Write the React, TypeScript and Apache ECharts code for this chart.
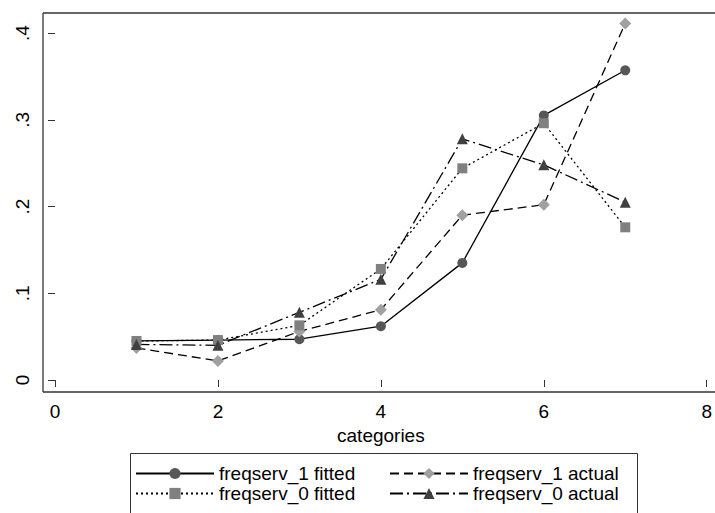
import React, { useEffect, useRef } from "react";
import * as echarts from "echarts";

const categories = [1, 2, 3, 4, 5, 6, 7];
const f1Fitted = [0.045, 0.046, 0.047, 0.062, 0.135, 0.305, 0.357];
const f1Actual = [0.037, 0.022, 0.056, 0.081, 0.19, 0.202, 0.411];
const f0Fitted = [0.045, 0.046, 0.063, 0.128, 0.244, 0.296, 0.176];
const f0Actual = [0.041, 0.04, 0.078, 0.116, 0.278, 0.248, 0.205];
const xTicks = [0, 2, 4, 6, 8];
const yTickLabels: Record<string, string> = { "0": "0", "0.1": ".1", "0.2": ".2", "0.3": ".3", "0.4": ".4" };

const FONT = "'Liberation Sans', Arial, sans-serif";

export default function App() {
  const ref = useRef<HTMLDivElement>(null);
  useEffect(() => {
    document.body.style.margin = "0";
    const chart = echarts.init(ref.current!, null, { renderer: "svg" });
    const pair = (vals: number[]) => categories.map((c, i) => [c, vals[i]]);
    const mk = (name: string, vals: number[], symbol: string, size: number, color: string, dash: any) => ({
      name,
      type: "line",
      data: pair(vals),
      symbol,
      symbolSize: size,
      showSymbol: true,
      clip: false,
      itemStyle: { color, borderWidth: 0 },
      lineStyle: { color: "#000", width: 1.3, type: dash },
      emphasis: { disabled: true },
    });
    const legendCommon = {
      orient: "vertical",
      itemWidth: 78,
      itemHeight: 14,
      itemGap: 1,
      padding: 0,
      textStyle: { fontFamily: FONT, fontSize: 19, color: "#000", lineHeight: 18 },
      selectedMode: false,
      top: 464,
    };
    chart.setOption({
      animation: false,
      textStyle: { fontFamily: FONT },
      grid: { left: 55, right: 3, top: 33, bottom: 133 },
      xAxis: {
        type: "value",
        min: xTicks[0],
        max: xTicks[xTicks.length - 1],
        interval: 2,
        offset: 12,
        name: "categories",
        nameLocation: "middle",
        nameGap: 31,
        nameTextStyle: { fontFamily: FONT, fontSize: 19, color: "#000" },
        axisLine: { show: false },
        axisTick: { show: true, length: 7, lineStyle: { color: "#333", width: 1 } },
        axisLabel: { fontFamily: FONT, fontSize: 19, color: "#000", margin: 10 },
        splitLine: { show: false },
      },
      yAxis: {
        type: "value",
        min: 0,
        max: 0.4,
        interval: 0.1,
        offset: 12,
        axisLine: { show: false },
        axisTick: { show: true, length: 7, lineStyle: { color: "#333", width: 1 } },
        axisLabel: {
          fontFamily: FONT,
          fontSize: 19,
          color: "#000",
          rotate: 90,
          margin: 11,
          formatter: (v: number) => yTickLabels[String(Math.round(v * 10) / 10)] ?? String(v),
        },
        splitLine: { show: false },
      },
      legend: [
        { ...legendCommon, left: 135, data: ["freqserv_1 fitted", "freqserv_0 fitted"] },
        { ...legendCommon, left: 389, data: ["freqserv_1 actual", "freqserv_0 actual"] },
      ],
      graphic: [
        { type: "line", shape: { x1: 43, y1: 13, x2: 715, y2: 13 }, style: { stroke: "#333", lineWidth: 1.3 } },
        { type: "line", shape: { x1: 43, y1: 13, x2: 43, y2: 392 }, style: { stroke: "#333", lineWidth: 1.3 } },
        { type: "line", shape: { x1: 43, y1: 392, x2: 715, y2: 392 }, style: { stroke: "#333", lineWidth: 1.3 } },
        { type: "rect", shape: { x: 130.5, y: 453.5, width: 507, height: 80 }, style: { fill: "none", stroke: "#333", lineWidth: 1 } },
      ],
      series: [
        mk("freqserv_1 fitted", f1Fitted, "circle", 10, "#575757", "solid"),
        mk("freqserv_1 actual", f1Actual, "diamond", 12, "#a0a0a0", [9, 5]),
        mk("freqserv_0 fitted", f0Fitted, "rect", 10, "#808080", [2, 3]),
        mk("freqserv_0 actual", f0Actual, "triangle", 11, "#404040", [13, 4, 2, 4]),
      ],
    });
    return () => chart.dispose();
  }, []);
  return <div ref={ref} style={{ width: 715, height: 513 }} />;
}
